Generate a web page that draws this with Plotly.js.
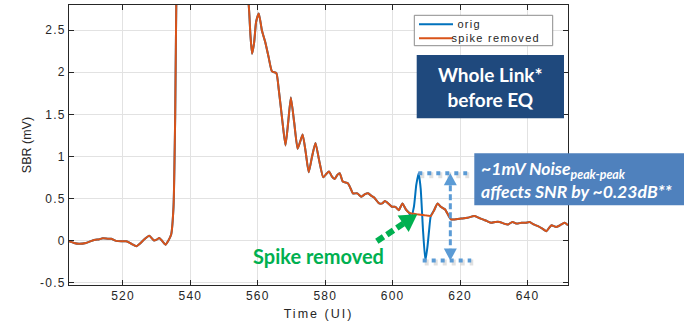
<!DOCTYPE html>
<html>
<head>
<meta charset="utf-8">
<script src="https://cdn.plot.ly/plotly-3.0.1.min.js"></script>
<style>
  html, body { margin: 0; padding: 0; background: #fff; }
  #chart { width: 690px; height: 321px; }
  #chart .xtitle { letter-spacing: 2px; }
</style>
</head>
<body>
<div id="chart"></div>
<script>
// Sampled SBR response (mV) against time in unit intervals
const timeUI = [
  504, 505.5, 507, 509, 511, 513, 514, 515.5, 516.5, 518, 519.5, 521, 522.5, 524, 525, 526,
  527.8, 529.2, 530, 530.8, 531.5, 532.6, 533.5, 534.3, 535, 535.5, 536, 537, 539, 542, 546,
  550, 553, 555.5, 557.3, 557.8, 558.3, 558.9, 559.5, 560.3, 561.2, 562.2, 563.2, 564.2,
  565.5, 566.2, 567.2, 568.2, 569, 569.8, 570.8, 571.8, 572.6, 573.3, 574.2, 575.1, 576.1,
  577.1, 578.2, 579.4, 580.3, 581.1, 582, 582.8, 583.6, 584.3, 585.2, 586.7, 587.5, 588.2,
  589.5, 590.7, 591.8, 592.7, 593.7, 594.5, 596, 596.9, 597.7, 598.4, 599.8, 600.8, 601.8,
  602.9, 603.9, 604.8, 605.5, 606.3, 607, 607.7, 608.3, 609, 609.7, 610.3, 610.8, 611.3,
  612.3, 613.3, 614.3, 615.5, 616.5, 617.3, 618.3, 620.3, 622.2, 624.2, 625.5, 626.7, 628,
  629.2, 630.5, 631.7, 633, 634.2, 635.5, 636.8, 638.2, 639.5, 640.6, 641.8, 643.1, 644.4,
  645.6, 646.4, 647.1, 648.5, 650, 651, 652
];

const origSBR = [
  -0.01, -0.03, -0.04, -0.03, 0.00, 0.015, 0.025, 0.02, 0.02, -0.005, -0.01, -0.01, -0.04, -0.07, -0.04, 0.00,
  0.055, 0.00, 0.01, 0.03, 0.00, -0.05, 0.00, 0.07, 0.40, 1.50, 3.50, 5.20, 6.30, 6.60, 6.10,
  5.10, 4.10, 3.30, 2.80, 2.45, 2.22, 2.35, 2.60, 2.70, 2.50, 2.36, 2.18, 2.01,
  1.99, 1.80, 1.45, 1.13, 1.40, 1.70, 1.40, 1.09, 1.18, 1.26, 1.05, 0.81, 1.00,
  1.16, 0.95, 0.75, 0.79, 0.82, 0.76, 0.73, 0.78, 0.80, 0.70, 0.68, 0.62, 0.56,
  0.56, 0.52, 0.55, 0.56, 0.53, 0.51, 0.44, 0.44, 0.47, 0.45, 0.40, 0.40, 0.36,
  0.44, 0.37, 0.33, 0.28, 0.40, 0.66, 0.80, 0.62, 0.12, -0.24, -0.08, 0.12, 0.29,
  0.36, 0.44, 0.40, 0.37, 0.30, 0.25, 0.25, 0.26, 0.27, 0.29, 0.27, 0.25, 0.23,
  0.21, 0.22, 0.22, 0.20, 0.19, 0.22, 0.20, 0.21, 0.21, 0.22, 0.19, 0.17, 0.14,
  0.11, 0.15, 0.18, 0.16, 0.19, 0.21, 0.18
];

const spikeRemovedSBR = [
  -0.01, -0.03, -0.04, -0.03, 0.00, 0.015, 0.025, 0.02, 0.02, -0.005, -0.01, -0.01, -0.04, -0.07, -0.04, 0.00,
  0.055, 0.00, 0.01, 0.03, 0.00, -0.05, 0.00, 0.07, 0.40, 1.50, 3.50, 5.20, 6.30, 6.60, 6.10,
  5.10, 4.10, 3.30, 2.80, 2.45, 2.22, 2.35, 2.60, 2.70, 2.50, 2.36, 2.18, 2.01,
  1.99, 1.80, 1.45, 1.13, 1.40, 1.70, 1.40, 1.09, 1.18, 1.26, 1.05, 0.81, 1.00,
  1.16, 0.95, 0.75, 0.79, 0.82, 0.76, 0.73, 0.78, 0.80, 0.70, 0.68, 0.62, 0.56,
  0.56, 0.52, 0.55, 0.56, 0.53, 0.51, 0.44, 0.44, 0.47, 0.45, 0.40, 0.40, 0.36,
  0.44, 0.37, 0.33, 0.32, 0.316, 0.312, 0.308, 0.305, 0.302, 0.298, 0.295, 0.293, 0.29,
  0.36, 0.44, 0.40, 0.37, 0.30, 0.25, 0.25, 0.26, 0.27, 0.29, 0.27, 0.25, 0.23,
  0.21, 0.22, 0.22, 0.20, 0.19, 0.22, 0.20, 0.21, 0.21, 0.22, 0.19, 0.17, 0.14,
  0.11, 0.15, 0.18, 0.16, 0.19, 0.21, 0.18
];

const seriesNames = ['orig', 'spike removed'];
const seriesColors = ['#0072BD', '#D95319'];

const xTicks = [520, 540, 560, 580, 600, 620, 640];
const yTicks = [-0.5, 0, 0.5, 1, 1.5, 2, 2.5];
const yTickText = ['-0.5', '0', '0.5', '1', '1.5', '2', '2.5'];

// Plot frame (px) and axis ranges
const ML = 69, MT = 5, PW = 499, PH = 280;
const XR = [504, 652], YR = [-0.53, 2.8];
const pxX = (XR[1] - XR[0]) / PW;   // data units per pixel, x
const pxY = (YR[1] - YR[0]) / PH;   // data units per pixel, y
const paperX = px => (px - ML) / PW;
const paperY = py => (MT + PH - py) / PH;

// Peak-to-peak of the spike: where the two series differ
let iHi = -1, iLo = -1;
origSBR.forEach((v, i) => {
  if (Math.abs(v - spikeRemovedSBR[i]) > 1e-9) {
    if (iHi < 0 || v > origSBR[iHi]) iHi = i;
    if (iLo < 0 || v < origSBR[iLo]) iLo = i;
  }
});
const spikeHi = origSBR[iHi], spikeLo = origSBR[iLo];

const ppBlue = '#5B9BD5';
const arrowX = 617.1;
const headLen = 12, headHalf = 6.5;

function tri(tipX, tipY, dirPxX, dirPxY, len, half) {
  // triangle arrowhead, tip at (tipX, tipY), pointing along pixel direction (dirPxX, dirPxY; y up)
  const n = Math.hypot(dirPxX, dirPxY);
  const ux = dirPxX / n, uy = dirPxY / n;
  const bx = -ux * len, by = -uy * len;
  const p1 = [bx - uy * half, by + ux * half];
  const p2 = [bx + uy * half, by - ux * half];
  const X = p => tipX + p[0] * pxX, Y = p => tipY + p[1] * pxY;
  return `M${tipX},${tipY} L${X(p1)},${Y(p1)} L${X(p2)},${Y(p2)} Z`;
}

// Green pointer to where the spike was removed
const gTail = [595.3, -0.01], gTip = [607.3, 0.31];
const gdx = (gTip[0] - gTail[0]) / pxX, gdy = (gTip[1] - gTail[1]) / pxY;
const gLen = Math.hypot(gdx, gdy);
const gHead = 17;
const gBase = [gTip[0] - gdx / gLen * (gHead - 1) * pxX, gTip[1] - gdy / gLen * (gHead - 1) * pxY];

const traces = [
  {
    x: timeUI, y: origSBR, name: seriesNames[0], type: 'scatter', mode: 'lines',
    line: { color: seriesColors[0], width: 2, shape: 'spline', smoothing: 0.5 },
    hoverinfo: 'skip'
  },
  {
    x: timeUI, y: spikeRemovedSBR, name: seriesNames[1], type: 'scatter', mode: 'lines',
    line: { color: seriesColors[1], width: 2, shape: 'spline', smoothing: 0.5 },
    hoverinfo: 'skip'
  }
];

const shapes = [
  // peak / trough dotted markers with soft shadow
  { type: 'line', xref: 'x', yref: 'y', x0: 607.6 + 0.6, x1: 622.1 + 0.6, y0: spikeHi - 2 * pxY, y1: spikeHi - 2 * pxY,
    line: { color: 'rgba(0,0,0,0.12)', width: 6, dash: '4px,5px' } },
  { type: 'line', xref: 'x', yref: 'y', x0: 608.9 + 0.6, x1: 623.3 + 0.6, y0: spikeLo - 2 * pxY, y1: spikeLo - 2 * pxY,
    line: { color: 'rgba(0,0,0,0.12)', width: 6, dash: '4px,5px' } },
  { type: 'line', xref: 'x', yref: 'y', x0: 607.6, x1: 622.1, y0: spikeHi, y1: spikeHi,
    line: { color: ppBlue, width: 4, dash: '4px,5px' } },
  { type: 'line', xref: 'x', yref: 'y', x0: 608.9, x1: 623.3, y0: spikeLo, y1: spikeLo,
    line: { color: ppBlue, width: 4, dash: '4px,5px' } },
  // double-headed measurement arrow
  { type: 'line', xref: 'x', yref: 'y', x0: arrowX, x1: arrowX,
    y0: spikeHi - headLen * pxY, y1: spikeLo + headLen * pxY,
    line: { color: ppBlue, width: 3, dash: '6px,3px' } },
  { type: 'path', xref: 'x', yref: 'y', path: tri(arrowX, spikeHi, 0, 1, headLen, headHalf),
    fillcolor: ppBlue, line: { width: 0 } },
  { type: 'path', xref: 'x', yref: 'y', path: tri(arrowX, spikeLo, 0, -1, headLen, headHalf),
    fillcolor: ppBlue, line: { width: 0 } },
  // green dashed pointer
  { type: 'line', xref: 'x', yref: 'y', x0: gTail[0], y0: gTail[1], x1: gBase[0], y1: gBase[1],
    line: { color: '#00B050', width: 6, dash: '8px,4px' } },
  { type: 'path', xref: 'x', yref: 'y', path: tri(gTip[0], gTip[1], gdx, gdy, gHead, 10),
    fillcolor: '#00B050', line: { width: 0 } },
  // legend box
  { type: 'rect', xref: 'paper', yref: 'paper', x0: paperX(414.3), x1: paperX(552.7), y0: paperY(45.7), y1: paperY(15.3),
    fillcolor: '#ffffff', line: { color: '#8c8c8c', width: 1 } },
  { type: 'line', xref: 'paper', yref: 'paper', x0: paperX(419), x1: paperX(453), y0: paperY(24.3), y1: paperY(24.3),
    line: { color: seriesColors[0], width: 2 } },
  { type: 'line', xref: 'paper', yref: 'paper', x0: paperX(419), x1: paperX(453), y0: paperY(38.3), y1: paperY(38.3),
    line: { color: seriesColors[1], width: 2 } },
  // callout boxes
  { type: 'rect', xref: 'paper', yref: 'paper', x0: paperX(416.7), x1: paperX(564), y0: paperY(118.3), y1: paperY(55),
    fillcolor: '#1F497D', line: { width: 0 } },
  { type: 'rect', xref: 'paper', yref: 'paper', x0: paperX(474.3), x1: paperX(684), y0: paperY(205.3), y1: paperY(153.3),
    fillcolor: '#4F81BD', line: { width: 0 } }
];

const tickFont = { family: 'Liberation Sans, Arial, sans-serif', size: 12, color: '#262626' };

const annotations = [
  { xref: 'paper', yref: 'paper', x: paperX(457.7), y: paperY(24.3), xanchor: 'left', yanchor: 'middle',
    text: seriesNames[0], showarrow: false, font: { family: tickFont.family, size: 11, color: '#262626' } },
  { xref: 'paper', yref: 'paper', x: paperX(457.7), y: paperY(38.3), xanchor: 'left', yanchor: 'middle',
    text: seriesNames[1], showarrow: false, font: { family: tickFont.family, size: 11, color: '#262626' } },
  { xref: 'paper', yref: 'paper', x: paperX(490.3), y: paperY(86.7), xanchor: 'center', yanchor: 'middle',
    text: 'Whole Link*<br>before EQ', showarrow: false,
    font: { family: 'Lato, Open Sans, sans-serif', size: 19, weight: 700, color: '#ffffff' } },
  { xref: 'paper', yref: 'paper', x: paperX(478.5), y: paperY(180), xanchor: 'left', yanchor: 'middle', align: 'left',
    text: '~1mV Noise<sub>peak-peak</sub><br>affects SNR by ~0.23dB**', showarrow: false,
    font: { family: 'Lato, Open Sans, sans-serif', size: 17.6, weight: 700, style: 'italic', color: '#ffffff' } },
  { xref: 'x', yref: 'y', x: 577.9, y: -0.18, xanchor: 'center', yanchor: 'middle',
    text: 'Spike removed', showarrow: false,
    font: { family: 'Lato, Open Sans, sans-serif', size: 20, weight: 700, color: '#00B050' } }
];

const axisCommon = {
  ticks: 'inside', ticklen: 5, tickwidth: 1, tickcolor: '#262626',
  showline: true, linecolor: '#262626', linewidth: 1, mirror: 'ticks',
  showgrid: true, gridcolor: '#e2e2e2', gridwidth: 1, zeroline: false,
  tickfont: tickFont, fixedrange: true
};

const layout = {
  width: 690, height: 321,
  margin: { l: ML, r: 690 - ML - PW, t: MT, b: 321 - MT - PH },
  paper_bgcolor: '#ffffff', plot_bgcolor: '#ffffff',
  showlegend: false,
  xaxis: Object.assign({}, axisCommon, {
    range: XR, tickmode: 'array', tickvals: xTicks,
    title: { text: 'Time (UI)', font: { family: tickFont.family, size: 12.5, color: '#262626' }, standoff: 6 }
  }),
  yaxis: Object.assign({}, axisCommon, {
    range: YR, tickmode: 'array', tickvals: yTicks, ticktext: yTickText,
    title: { text: 'SBR (mV)', font: { family: tickFont.family, size: 12.5, color: '#262626' }, standoff: 10 }
  }),
  shapes: shapes,
  annotations: annotations
};

Plotly.newPlot('chart', traces, layout, { displayModeBar: false, staticPlot: true }).then(gd => {
  // widened spacing for tick labels and the two legend labels
  gd.querySelectorAll('.xtick text, .ytick text').forEach(t => {
    t.style.letterSpacing = '1.2px';
  });
  gd.querySelectorAll('.annotation').forEach(g => {
    const idx = g.getAttribute('data-index');
    if (idx === '0' || idx === '1') {
      g.querySelectorAll('text').forEach(t => { t.style.letterSpacing = '1.3px'; });
    }
  });
});
</script>
</body>
</html>
